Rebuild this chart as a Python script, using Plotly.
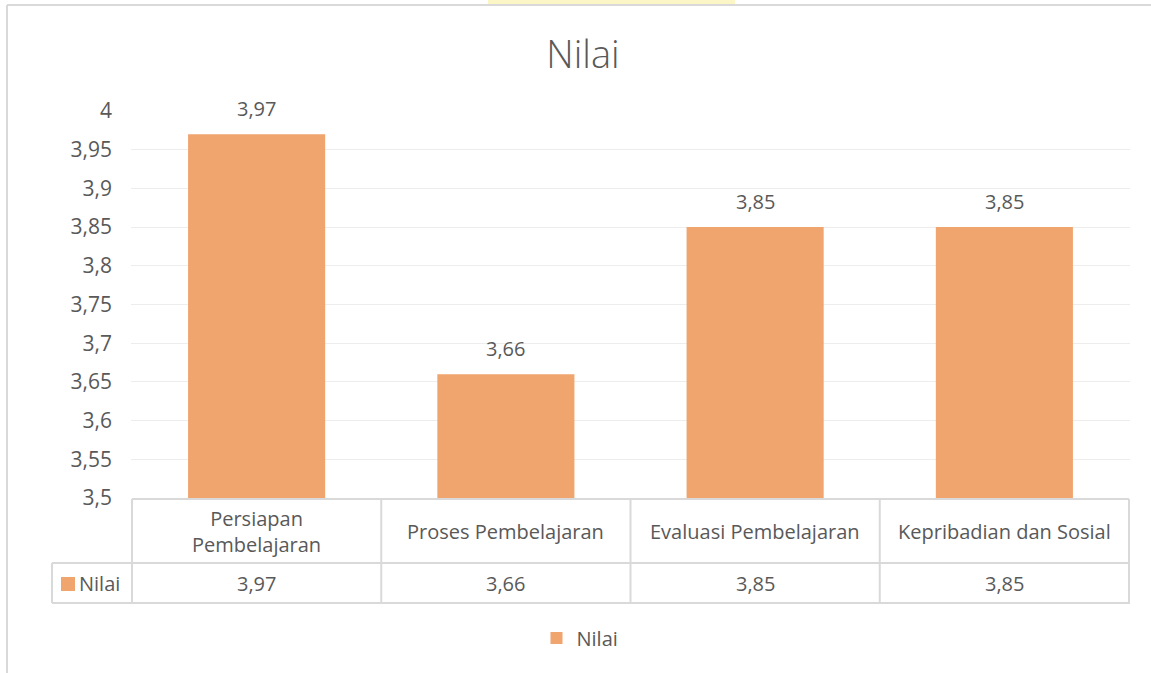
import plotly.graph_objects as go

# data
categories = ["Persiapan Pembelajaran", "Proses Pembelajaran",
              "Evaluasi Pembelajaran", "Kepribadian dan Sosial"]
table_headers = ["Persiapan<br>Pembelajaran", "Proses Pembelajaran",
                 "Evaluasi Pembelajaran", "Kepribadian dan Sosial"]
nilai = [3.97, 3.66, 3.85, 3.85]
tick_vals = [3.5, 3.55, 3.6, 3.65, 3.7, 3.75, 3.8, 3.85, 3.9, 3.95, 4]
series_name = "Nilai"

BAR = "#F0A46E"
TXT = "#595959"
LINE = "#D9D9D9"
FONT = "Open Sans, Noto Sans, sans-serif"
FS = 20

W, H = 1151, 673
ML, MR, MT, MB = 131, 21, 111, 175
pw = W - ML - MR
ph = H - MT - MB


def fmt(v):
    return f"{v:g}".replace(".", ",")


def px_x(px):
    # page pixel -> paper x
    return (px - ML) / pw


def px_y(py):
    # page pixel -> paper y
    return (H - MB - py) / ph


fig = go.Figure()

fig.add_trace(go.Bar(
    x=categories, y=nilai, name=series_name,
    marker_color=BAR, marker_line_width=0,
))

# data labels above bars
for c, v in zip(categories, nilai):
    fig.add_annotation(x=c, y=v, text=fmt(v), showarrow=False,
                       yanchor="bottom", yshift=10,
                       font=dict(size=FS, color=TXT))

# data table under the axis
n = len(categories)
y_top, y_mid, y_bot = px_y(499), px_y(563), px_y(603)
shapes = []
line = dict(color=LINE, width=2)
shapes.append(dict(type="line", xref="x", yref="paper", x0=-0.5, x1=n - 0.5,
                   y0=y_top, y1=y_top, line=line))
for yy in (y_mid, y_bot):
    shapes.append(dict(type="line", xref="paper", yref="paper",
                       x0=px_x(52), x1=1, y0=yy, y1=yy, line=line))
for i in range(n + 1):
    shapes.append(dict(type="line", xref="x", yref="paper",
                       x0=i - 0.5, x1=i - 0.5, y0=y_top, y1=y_bot, line=line))
shapes.append(dict(type="line", xref="paper", yref="paper",
                   x0=px_x(52), x1=px_x(52), y0=y_mid, y1=y_bot, line=line))

for c, h, v in zip(categories, table_headers, nilai):
    fig.add_annotation(x=c, xref="x", yref="paper", y=(y_top + y_mid) / 2,
                       text=h, showarrow=False, yanchor="middle",
                       font=dict(size=FS, color=TXT))
    fig.add_annotation(x=c, xref="x", yref="paper", y=(y_mid + y_bot) / 2,
                       text=fmt(v), showarrow=False, yanchor="middle",
                       font=dict(size=FS, color=TXT))

# series key in the table
shapes.append(dict(type="rect", xref="paper", yref="paper",
                   x0=px_x(61), x1=px_x(75), y0=px_y(591), y1=px_y(577),
                   fillcolor=BAR, line=dict(width=0)))
fig.add_annotation(x=px_x(77), xref="paper", yref="paper", y=(y_mid + y_bot) / 2,
                   xanchor="left", text=series_name, showarrow=False,
                   yanchor="middle", font=dict(size=FS, color=TXT))

# chart area frame and the faint mark at the top
shapes += [
    dict(type="line", xref="paper", yref="paper",
         x0=px_x(7), x1=px_x(W), y0=px_y(5), y1=px_y(5),
         line=dict(color=LINE, width=2)),
    dict(type="line", xref="paper", yref="paper",
         x0=px_x(7), x1=px_x(7), y0=px_y(5), y1=px_y(H),
         line=dict(color=LINE, width=2)),
    dict(type="rect", xref="paper", yref="paper",
         x0=px_x(488), x1=px_x(735), y0=px_y(4), y1=px_y(0),
         fillcolor="#FBF2B8", line=dict(width=0), opacity=0.8),
]

fig.update_layout(
    width=W, height=H,
    margin=dict(l=ML, r=MR, t=MT, b=MB),
    paper_bgcolor="white", plot_bgcolor="white",
    font=dict(family=FONT, color=TXT, size=FS),
    title=dict(text="Nilai", x=px_x(583), xref="paper", xanchor="center",
               y=1 - 55 / H, yanchor="middle",
               font=dict(size=38, color=TXT, weight=300)),
    bargap=0.45,
    showlegend=True,
    legend=dict(orientation="h", x=px_x(580), xanchor="center",
                y=px_y(638), yanchor="middle",
                font=dict(size=FS, color=TXT)),
    xaxis=dict(showticklabels=False, showgrid=False,
               showline=False, zeroline=False),
    yaxis=dict(range=[3.5, 4], tickvals=tick_vals,
               ticktext=[fmt(v) for v in tick_vals],
               showgrid=True, gridcolor="#EDEDED", gridwidth=1,
               zeroline=False, showline=False, ticks="",
               ticklabelstandoff=18,
               tickfont=dict(size=21, color=TXT)),
    shapes=shapes,
)

fig.write_html("out.html", config={"displayModeBar": False},
               post_script="document.body.style.margin='0';")
